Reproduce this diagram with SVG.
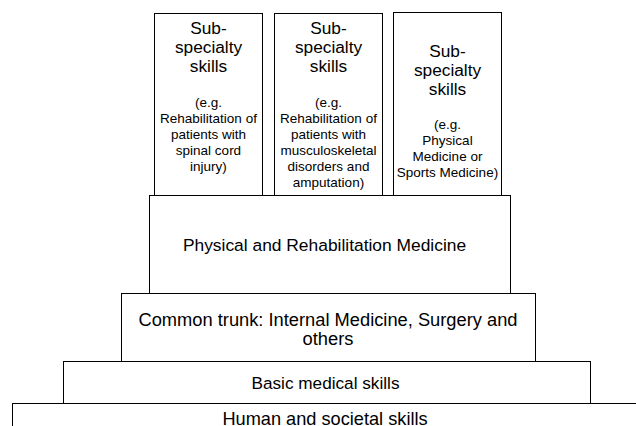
<svg xmlns="http://www.w3.org/2000/svg" width="636" height="426" viewBox="0 0 636 426">
<style>
rect{fill:#fff;stroke:#000;stroke-width:1}
text{font-family:"Liberation Sans",Arial,sans-serif;fill:#000;text-anchor:middle}
.big{font-size:17.3px}
.sm{font-size:13.5px}
</style>
<rect x="0" y="0" width="636" height="426" style="stroke:none"/>
<g id="human"><rect x="12.5" y="403.5" width="640" height="40"/><text x="325" y="424.5" style="font-size:18.2px">Human and societal skills</text></g>
<g id="basic"><rect x="63.5" y="361.5" width="527" height="42"/><text x="325.5" y="389" style="font-size:17.2px">Basic medical skills</text></g>
<g id="trunk"><rect x="121.5" y="293.5" width="414" height="68"/><text x="328" y="325.5" style="font-size:18.3px">Common trunk: Internal Medicine, Surgery and</text><text x="328" y="345" style="font-size:18.3px">others</text></g>
<g id="prm"><rect x="149.5" y="195.5" width="361" height="98"/><text x="324.5" y="251" style="font-size:17.4px">Physical and Rehabilitation Medicine</text></g>
<g id="sub1"><rect x="154.5" y="13.5" width="108" height="182"/>
<text class="big"><tspan x="208.5" y="34">Sub-</tspan><tspan x="208.5" y="53">specialty</tspan><tspan x="208.5" y="72">skills</tspan></text>
<text class="sm"><tspan x="208.5" y="107">(e.g.</tspan><tspan x="208.5" y="123">Rehabilitation of</tspan><tspan x="208.5" y="139">patients with</tspan><tspan x="208.5" y="155">spinal cord</tspan><tspan x="208.5" y="171">injury)</tspan></text></g>
<g id="sub2"><rect x="274.5" y="13.5" width="108" height="182"/>
<text class="big"><tspan x="328.5" y="34">Sub-</tspan><tspan x="328.5" y="53">specialty</tspan><tspan x="328.5" y="72">skills</tspan></text>
<text class="sm"><tspan x="328.5" y="107">(e.g.</tspan><tspan x="328.5" y="123">Rehabilitation of</tspan><tspan x="328.5" y="139">patients with</tspan><tspan x="328.5" y="155">musculoskeletal</tspan><tspan x="328.5" y="171">disorders and</tspan><tspan x="328.5" y="187">amputation)</tspan></text></g>
<g id="sub3"><rect x="393.5" y="12.5" width="108" height="183"/>
<text class="big"><tspan x="447.5" y="57">Sub-</tspan><tspan x="447.5" y="76">specialty</tspan><tspan x="447.5" y="95">skills</tspan></text>
<text class="sm"><tspan x="447.5" y="129">(e.g.</tspan><tspan x="447.5" y="145">Physical</tspan><tspan x="447.5" y="161">Medicine or</tspan><tspan x="447.5" y="177">Sports Medicine)</tspan></text></g>
<g id="connectors"></g>
</svg>
